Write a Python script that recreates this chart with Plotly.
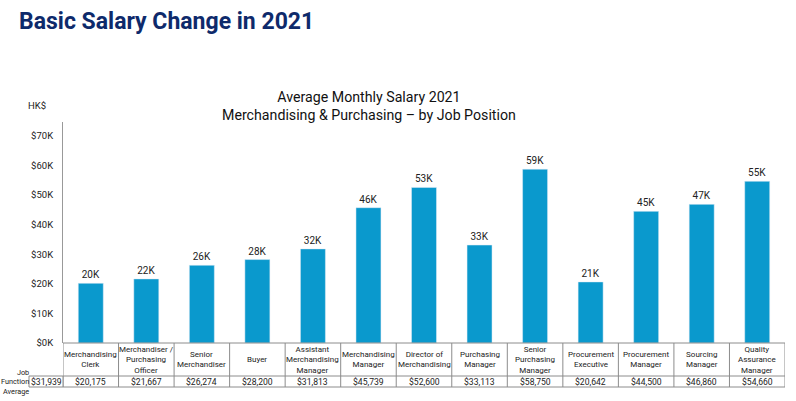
import plotly.graph_objects as go

positions = ["Merchandising<br>Clerk", "Merchandiser /<br>Purchasing<br>Officer", "Senior<br>Merchandiser",
             "Buyer", "Assistant<br>Merchandising<br>Manager", "Merchandising<br>Manager",
             "Director of<br>Merchandising", "Purchasing<br>Manager", "Senior<br>Purchasing<br>Manager",
             "Procurement<br>Executive", "Procurement<br>Manager", "Sourcing<br>Manager",
             "Quality<br>Assurance<br>Manager"]
salaries = [20175, 21667, 26274, 28200, 31813, 45739, 52600, 33113, 58750, 20642, 44500, 46860, 54660]
job_function_average = 31939
tick_vals = [0, 10000, 20000, 30000, 40000, 50000, 60000, 70000]
tick_text = ["$0K", "$10K", "$20K", "$30K", "$40K", "$50K", "$60K", "$70K"]

FONT = "Roboto, Arial, sans-serif"
BAR = "#0A99CD"
GRID = "#8c8c8c"
TXT = "#222"

# page body margin is removed by the post_script below
OFF = 0
W, H = 796, 401
# plot area in page pixels
PX0, PX1, PY0, PY1 = 63, 785, 122, 343
L, R = PX0 - OFF, W - (PX1 - OFF)
T, B = PY0 - OFF, H - (PY1 - OFF)
plot_w, plot_h = W - L - R, H - T - B

def px(xp):
    return (xp - OFF - L) / plot_w

def py(yp):
    return (H - B - (yp - OFF)) / plot_h

idx = list(range(len(positions)))
fig = go.Figure(go.Bar(
    x=idx, y=salaries, marker_color=BAR, width=0.45,
    text=[f"{int(v / 1000 + 0.5)}K" for v in salaries], textposition="outside",
    textfont=dict(size=10, color=TXT, family=FONT), cliponaxis=False,
    hoverinfo="skip",
))

fig.update_layout(
    width=W, height=H, margin=dict(l=L, r=R, t=T, b=B, autoexpand=False),
    paper_bgcolor="white", plot_bgcolor="white", showlegend=False,
    font=dict(family=FONT, color=TXT),
)
fig.update_xaxes(range=[-0.5, len(positions) - 0.5], showticklabels=False, showgrid=False,
                 zeroline=False, showline=False, ticks="")
fig.update_yaxes(range=[0, 74700], tickvals=tick_vals, ticktext=tick_text, showgrid=False,
                 zeroline=False, showline=True, linecolor="#999", linewidth=1,
                 tickfont=dict(size=9.5, color=TXT, family=FONT), ticks="", ticklabelstandoff=7)

p_top, p_mid, p_bot = py(343), py(376), py(387)

shapes = []
for yy in (p_top, p_mid, p_bot):
    shapes.append(dict(type="line", xref="x", yref="paper", x0=-0.5, x1=len(positions) - 0.5,
                       y0=yy, y1=yy, line=dict(color=GRID, width=1)))
for i in range(len(positions) + 1):
    shapes.append(dict(type="line", xref="x", yref="paper", x0=i - 0.5, x1=i - 0.5,
                       y0=p_top, y1=p_bot, line=dict(color=GRID, width=1)))
shapes.append(dict(type="rect", xref="paper", yref="paper", x0=px(29), x1=px(63),
                   y0=p_bot, y1=p_mid, line=dict(color=GRID, width=1)))

annotations = []
for i, (name, v) in enumerate(zip(positions, salaries)):
    annotations.append(dict(x=i, y=(p_top + p_mid) / 2, xref="x", yref="paper", text=name,
                            showarrow=False, font=dict(size=8, color=TXT), align="center",
                            yanchor="middle"))
    annotations.append(dict(x=i, y=(p_mid + p_bot) / 2, xref="x", yref="paper", text=f"${v:,}",
                            showarrow=False, font=dict(size=8.6, color=TXT), yanchor="middle"))
annotations.append(dict(x=px(46), y=(p_mid + p_bot) / 2, xref="paper", yref="paper",
                        text=f"${job_function_average:,}", showarrow=False,
                        font=dict(size=8.6, color=TXT), yanchor="middle", xanchor="center"))
annotations.append(dict(x=px(30), y=py(382), xref="paper", yref="paper",
                        text="Job<br>Function<br>Average", showarrow=False,
                        font=dict(size=7.3, color=TXT), align="right",
                        xanchor="right", yanchor="middle", borderpad=0))
annotations.append(dict(x=px(17), y=py(21), xref="paper", yref="paper",
                        text="<b>Basic Salary Change in 2021</b>", showarrow=False,
                        font=dict(size=23, color="#0E2A6B"), xanchor="left", yanchor="middle"))
annotations.append(dict(x=px(369), y=py(106), xref="paper", yref="paper",
                        text="Average Monthly Salary 2021<br>Merchandising & Purchasing \u2013 by Job Position",
                        showarrow=False, font=dict(size=14.2, color="#111"), xanchor="center",
                        yanchor="middle", align="center"))
annotations.append(dict(x=px(37), y=py(105), xref="paper", yref="paper",
                        text="HK$", showarrow=False, font=dict(size=9.5, color=TXT),
                        xanchor="center", yanchor="middle"))

fig.update_layout(shapes=shapes, annotations=annotations)
fig.write_html("out.html", config={"displayModeBar": False},
               post_script="document.body.style.margin='0';")
